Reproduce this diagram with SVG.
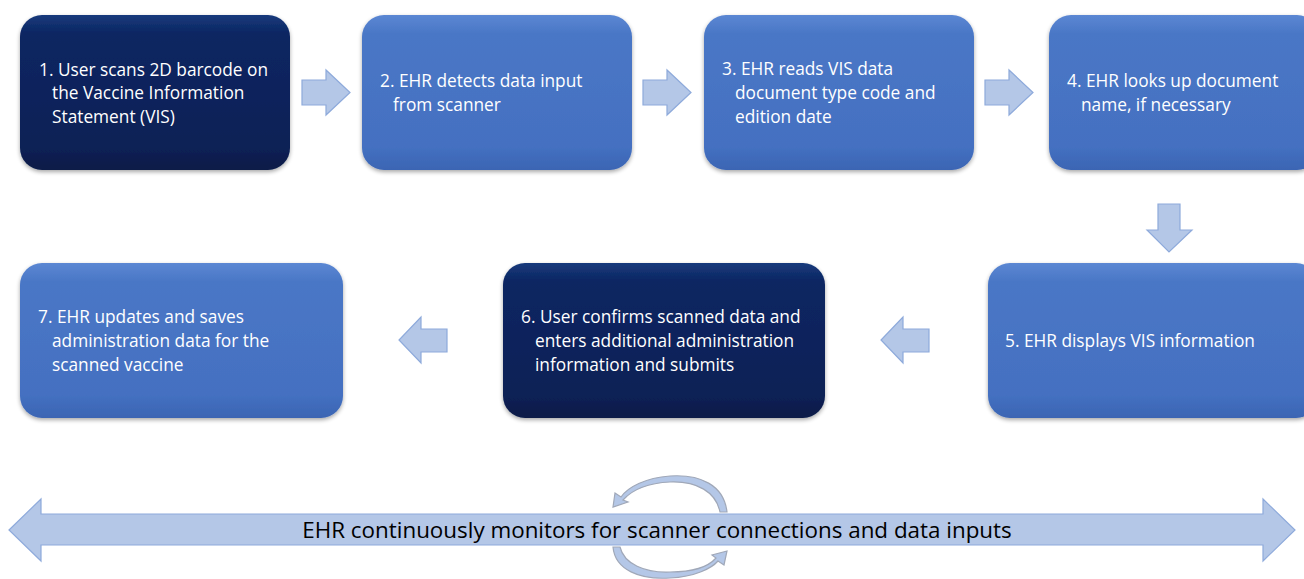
<svg xmlns="http://www.w3.org/2000/svg" width="1304" height="579" viewBox="0 0 1304 579">
<defs>
<linearGradient id="gBlue" x1="0" y1="0" x2="0" y2="1">
<stop offset="0" stop-color="#5b87d3"/>
<stop offset="0.12" stop-color="#4a77c6"/>
<stop offset="0.85" stop-color="#4470c1"/>
<stop offset="1" stop-color="#3b65b3"/>
</linearGradient>
<linearGradient id="gNavy" x1="0" y1="0" x2="0" y2="1">
<stop offset="0" stop-color="#173a7c"/>
<stop offset="0.12" stop-color="#0c2662"/>
<stop offset="0.85" stop-color="#0a2156"/>
<stop offset="1" stop-color="#081a47"/>
</linearGradient>
<filter id="sh" x="-5%" y="-5%" width="110%" height="115%">
<feGaussianBlur in="SourceAlpha" stdDeviation="2"/>
<feOffset dy="2"/>
<feComponentTransfer><feFuncA type="linear" slope="0.35"/></feComponentTransfer>
<feMerge><feMergeNode/><feMergeNode in="SourceGraphic"/></feMerge>
</filter>
</defs>
<style>
.blue{fill:url(#gBlue);filter:url(#sh)}
.navy{fill:url(#gNavy);filter:url(#sh)}
.t{font-family:"Open Sans","Liberation Sans",sans-serif;font-size:17.3px;fill:#ffffff}
.arr{fill:#b4c7e7;stroke:#8eaadb;stroke-width:1.2}
.big{font-family:"Open Sans","Liberation Sans",sans-serif;font-size:22.4px;fill:#000000}
.circ{fill:#b4c7e7;stroke:#a0a8b8;stroke-width:1.2}
</style>

<g id="node1">
<rect class="navy" x="20" y="15" width="270" height="155" rx="22"/>
<text class="t" x="39" y="76">1. User scans 2D barcode on</text>
<text class="t" x="52" y="99">the Vaccine Information</text>
<text class="t" x="52" y="123">Statement (VIS)</text>
</g>
<g id="node2">
<rect class="blue" x="362" y="15" width="270" height="155" rx="22"/>
<text class="t" x="380" y="87">2. EHR detects data input</text>
<text class="t" x="393" y="111">from scanner</text>
</g>
<g id="node3">
<rect class="blue" x="704" y="15" width="270" height="155" rx="22"/>
<text class="t" x="722" y="75">3. EHR reads VIS data</text>
<text class="t" x="735" y="99">document type code and</text>
<text class="t" x="735" y="123">edition date</text>
</g>
<g id="node4">
<rect class="blue" x="1049" y="15" width="270" height="155" rx="22"/>
<text class="t" x="1067" y="87">4. EHR looks up document</text>
<text class="t" x="1081" y="111">name, if necessary</text>
</g>
<g id="node5">
<rect class="blue" x="988" y="263" width="330" height="155" rx="22"/>
<text class="t" x="1005" y="347">5. EHR displays VIS information</text>
</g>
<g id="node6">
<rect class="navy" x="503" y="263" width="322" height="155" rx="22"/>
<text class="t" x="521" y="323">6. User confirms scanned data and</text>
<text class="t" x="535" y="347">enters additional administration</text>
<text class="t" x="535" y="371">information and submits</text>
</g>
<g id="node7">
<rect class="blue" x="20" y="263" width="323" height="155" rx="22"/>
<text class="t" x="38" y="323">7. EHR updates and saves</text>
<text class="t" x="52" y="347">administration data for the</text>
<text class="t" x="52" y="371">scanned vaccine</text>
</g>

<g id="connectors">
<path class="arr" d="M302,80 H326 V70 L350,92.5 L326,115 V105 H302 Z"/>
<path class="arr" d="M643,80 H667 V70 L691,92.5 L667,115 V105 H643 Z"/>
<path class="arr" d="M985,80 H1009 V70 L1033,92.5 L1009,115 V105 H985 Z"/>
<path class="arr" d="M1158,204 H1180 V230 H1192 L1169,252 L1147,230 H1158 Z"/>
<path class="arr" d="M929,329 H903 V317 L881,340 L903,363 V352 H929 Z"/>
<path class="arr" d="M447,329 H421 V317 L399,340 L421,363 V352 H447 Z"/>
<path class="arr" d="M9,530 L41,499 V514 H1263 V499 L1295,530 L1263,561 V545 H41 V561 Z"/>
<path class="circ" d="M727,512 C724,485 700,474 670,476 C645,478 628,487 621,497 L615,493 L613,507 L628,502 L623,500 C632,490 648,483 670,482 C697,481 716,492 720,512 Z"/>
<path class="circ" d="M613,547 C615,570 640,580 670,578 C695,577 712,568 718,561 L724,565 L727,551 L712,555 L716,558 C709,566 694,572 670,572 C645,573 624,564 620,547 Z"/>
<text class="big" x="657" y="538" text-anchor="middle">EHR continuously monitors for scanner connections and data inputs</text>
</g>
</svg>
